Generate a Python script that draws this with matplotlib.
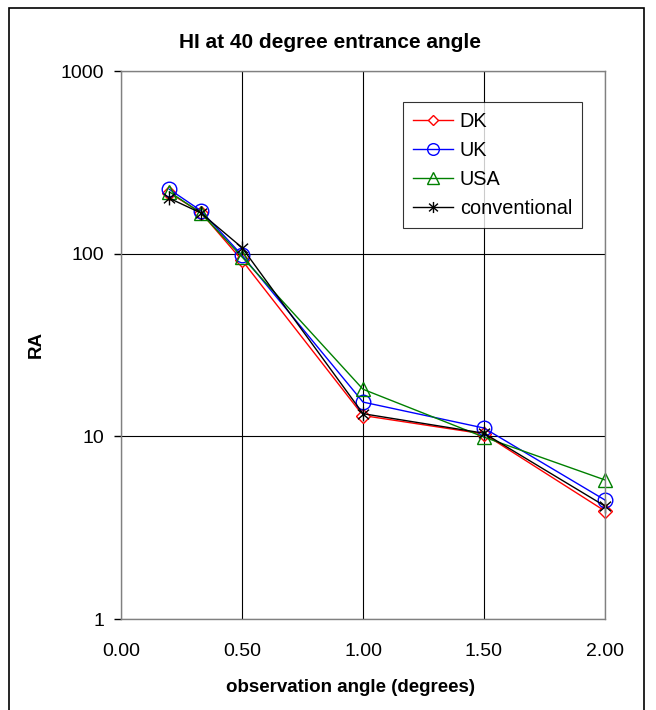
import matplotlib
matplotlib.use("Agg")
import matplotlib.pyplot as plt
from matplotlib.patches import Rectangle
from matplotlib.path import Path

plt.rcParams['font.family'] = ['Liberation Sans', 'DejaVu Sans']

# observation angles (degrees) and RA readings per series
obs_angle = [0.2, 0.33, 0.5, 1.0, 1.5, 2.0]
ra_dk = [215, 168, 92, 13.0, 10.3, 3.9]
ra_uk = [225, 172, 98, 15.4, 11.1, 4.48]
ra_usa = [218, 167, 96, 18.1, 9.9, 5.77]
ra_conv = [201, 167, 108, 13.3, 10.4, 4.15]

x_ticks = [0.0, 0.5, 1.0, 1.5, 2.0]
x_ticklabels = ["0.00", "0.50", "1.00", "1.50", "2.00"]
y_ticks = [1, 10, 100, 1000]
y_ticklabels = ["1", "10", "100", "1000"]

# six-armed asterisk marker (vertical bar plus an X)
star = Path([(0, -1), (0, 1), (-0.8, -0.7), (0.8, 0.7), (-0.8, 0.7), (0.8, -0.7)],
            [Path.MOVETO, Path.LINETO, Path.MOVETO, Path.LINETO, Path.MOVETO, Path.LINETO])

fig = plt.figure(figsize=(6.56, 7.10), dpi=100)
ax = fig.add_axes([121 / 656, 1 - 619 / 710, 484 / 656, 548 / 710])

ax.plot(obs_angle, ra_dk, color="red", lw=1, marker="D", ms=7,
        mfc="white", mec="red", mew=1, label="DK", clip_on=False)
ax.plot(obs_angle, ra_uk, color="blue", lw=1, marker="o", ms=10.5,
        mfc="none", mec="blue", mew=1, label="UK", clip_on=False)
ax.plot(obs_angle, ra_usa, color="green", lw=1, marker="^", ms=10,
        mfc="none", mec="green", mew=1, label="USA", clip_on=False)
ax.plot(obs_angle, ra_conv, color="black", lw=1, marker=star, ms=10,
        mew=1, label="conventional", clip_on=False)

ax.set_yscale("log")
ax.set_xlim(0, 2)
ax.set_ylim(1, 1000)
ax.set_xticks(x_ticks)
ax.set_xticklabels(x_ticklabels)
ax.set_yticks(y_ticks)
ax.set_yticklabels(y_ticklabels)
ax.minorticks_off()
ax.tick_params(axis="both", labelsize=14, colors="black")
ax.tick_params(axis="y", direction="out", length=5, width=1, pad=7)
ax.tick_params(axis="x", length=0, pad=17)

ax.grid(True, color="black", lw=0.8)
for s in ax.spines.values():
    s.set_color("#808080")
    s.set_linewidth(1)

fig.text(350 / 656, 1 - 688 / 710, "observation angle (degrees)",
         ha="center", va="center", fontsize=13.5, fontweight="bold")
fig.text(36 / 656, 1 - 344 / 710, "RA", rotation=90, ha="center", va="center",
         fontsize=13.5, fontweight="bold")
fig.text(330 / 656, 1 - 42 / 710, "HI at 40 degree entrance angle",
         ha="center", va="center", fontsize=15, fontweight="bold")

leg = ax.legend(loc="upper right", bbox_to_anchor=(461 / 484, 517 / 548),
                borderaxespad=0, fontsize=14.3, frameon=True, fancybox=False,
                edgecolor="black", handlelength=2.0, borderpad=0.5,
                labelspacing=0.5, handletextpad=0.35, markerscale=0.8)
leg.get_frame().set_linewidth(0.8)

# outer frame of the chart
fig.patches.append(Rectangle((9 / 656, -0.05), 635 / 656, 1.05 - 8 / 710,
                             transform=fig.transFigure, fill=False,
                             edgecolor="black", lw=1.2))

fig.savefig("out.png", dpi=100)
